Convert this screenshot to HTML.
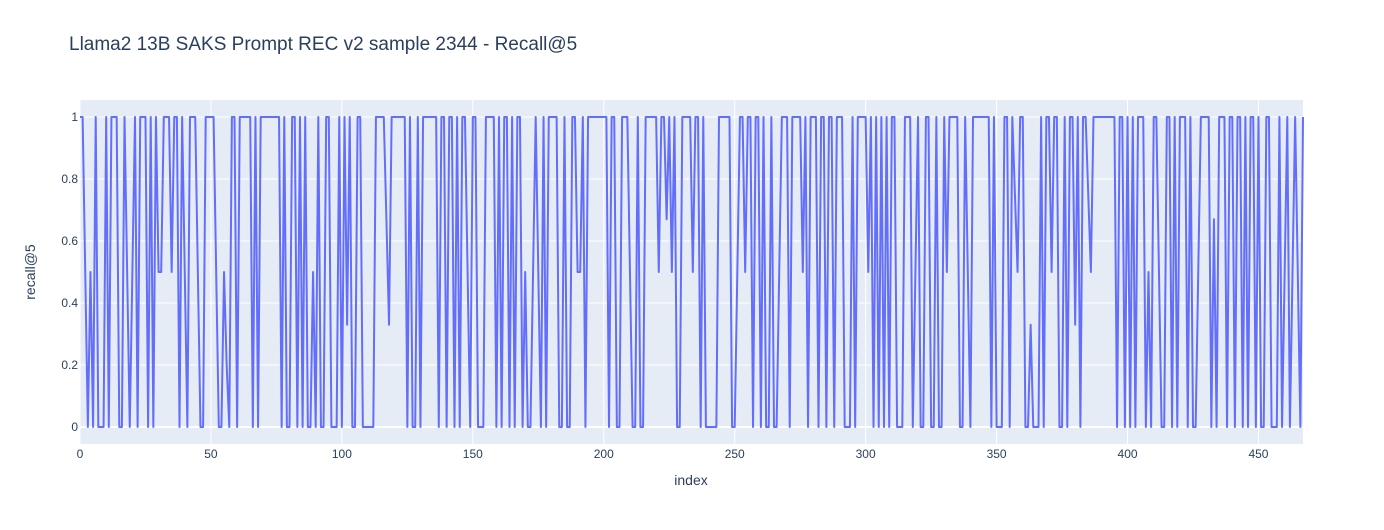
<!DOCTYPE html>
<html><head><meta charset="utf-8"><style>
body{margin:0;background:#fff;font-family:"Liberation Sans",sans-serif;}
svg text{font-family:"Liberation Sans",sans-serif;}
</style></head><body>
<svg id="chart" width="1384" height="525" xmlns="http://www.w3.org/2000/svg">
<rect x="0" y="0" width="1384" height="525" fill="#fff"/>
<text x="69" y="50" font-size="19" fill="#2a3f5f">Llama2 13B SAKS Prompt REC v2 sample 2344 - Recall@5</text>
<rect x="80" y="100" width="1223" height="344" fill="#e5ecf6"/>
<g id="grid"></g>
<g id="ticks"></g>
<path id="series" fill="none" stroke="#636efa" stroke-width="2" stroke-linejoin="round"/>
<text x="691" y="485" font-size="14" fill="#2a3f5f" text-anchor="middle">index</text>
<text x="35" y="272" font-size="14" fill="#2a3f5f" text-anchor="middle" transform="rotate(-90 35 272)">recall@5</text>
</svg>
<script>
const recall = [
1,1,0.5,0,0.5,0,1,0,0,0,
1,0,1,1,1,0,0,1,0.5,0,
0.5,1,0,1,1,1,0,1,0,1,
0.5,0.5,1,1,1,0.5,1,1,0,1,
0.5,0,1,1,1,0.5,0,0,1,1,
1,1,0.5,0,0,0.5,0.2,0,1,1,
0,1,1,1,1,1,0,1,0,1,
1,1,1,1,1,1,1,0,1,0,
0,1,1,0,1,0,1,0,0,0.5,
0,1,0,0,1,1,0,0,0,1,
0,1,0.33,1,0,0,1,1,0,0,
0,0,0,1,1,1,1,0.67,0.33,1,
1,1,1,1,1,0,1,0,0,1,
0,1,1,1,1,1,1,0,1,1,
0,1,1,0,1,0,1,1,0.5,0,
1,1,0,0,0,1,1,1,1,0,
1,0,1,1,0,1,0,1,1,0,
0.5,0,0,0.5,1,0.5,0,1,0,1,
1,1,1,0,0,1,0,0,1,1,
0.5,0.5,1,0,1,1,1,1,1,1,
1,1,0,1,1,0,0,1,1,1,
0.5,0,0,1,0,0,1,1,1,1,
1,0.5,1,1,0.67,1,0.5,1,0,0,
1,1,1,1,0.5,1,1,0,1,0,
0,0,0,0,1,1,1,1,1,0,
0,0.5,1,1,0.5,1,1,0,1,1,
0,1,0,0,1,0,0,0.5,1,1,
1,0,1,1,1,1,0.5,1,0,1,
1,1,0,1,1,0,1,1,0,1,
1,1,0,0,0,1,0,1,1,1,
1,0.5,1,0,1,0,1,0,1,0,
1,1,0,0,0,1,1,1,0,0.5,
1,0,0,1,1,0,0,1,0,0,
1,0.5,1,1,1,1,0,0,1,0.5,
0,1,1,1,1,1,1,1,0,1,
0,0,0,1,1,0,1,0.75,0.5,1,
1,0,0,0.33,0,0,0,1,0,1,
1,0.5,1,1,0,0,1,0,1,1,
0.33,1,0,1,1,0.75,0.5,1,1,1,
1,1,1,1,1,1,0,1,1,0,
1,0,1,0,1,1,1,0,0.5,0,
1,1,0.5,0,0,1,1,0,1,0,
1,1,1,0,1,0,0,0.5,1,1,
1,1,0,0.67,0,1,1,1,0,1,
1,0,1,1,0,1,0,1,1,0,
1,0,0,1,1,0,0,0,1,0,
0.5,1,0,0.5,1,0.5,0,1
];
const xTicks = [0,50,100,150,200,250,300,350,400,450];
const yTicks = [0,0.2,0.4,0.6,0.8,1];
const yTickLabels = ["0","0.2","0.4","0.6","0.8","1"];

const NS = "http://www.w3.org/2000/svg";
const L = 80, R = 1303, T = 100, B = 444;
const xMax = recall.length - 1;
const x = i => L + (R - L) * i / xMax;
const yMin = -0.0548, yMax = 1.0548;
const y = v => B - (B - T) * (v - yMin) / (yMax - yMin);

const grid = document.getElementById('grid');
const ticks = document.getElementById('ticks');
xTicks.forEach(t => {
  const ln = document.createElementNS(NS, 'line');
  ln.setAttribute('x1', x(t)); ln.setAttribute('x2', x(t));
  ln.setAttribute('y1', T); ln.setAttribute('y2', B);
  ln.setAttribute('stroke', '#fff'); ln.setAttribute('stroke-width', '1');
  
  
  grid.appendChild(ln);
  const tx = document.createElementNS(NS, 'text');
  tx.setAttribute('x', x(t)); tx.setAttribute('y', 458);
  tx.setAttribute('font-size', '12'); tx.setAttribute('fill', '#2a3f5f');
  tx.setAttribute('text-anchor', 'middle');
  tx.textContent = t;
  
  
  ticks.appendChild(tx);
});
yTicks.forEach((t, k) => {
  const ln = document.createElementNS(NS, 'line');
  ln.setAttribute('x1', L); ln.setAttribute('x2', R);
  ln.setAttribute('y1', y(t)); ln.setAttribute('y2', y(t));
  ln.setAttribute('stroke', '#fff'); ln.setAttribute('stroke-width', t === 0 ? '2' : '1');
  
  
  grid.appendChild(ln);
  const tx = document.createElementNS(NS, 'text');
  tx.setAttribute('x', 78); tx.setAttribute('y', y(t) + 4);
  tx.setAttribute('font-size', '12'); tx.setAttribute('fill', '#2a3f5f');
  tx.setAttribute('text-anchor', 'end');
  tx.textContent = yTickLabels[k];
  
  
  ticks.appendChild(tx);
});
let d = '';
recall.forEach((v, i) => { d += (i ? 'L' : 'M') + x(i).toFixed(2) + ' ' + y(v).toFixed(2); });
document.getElementById('series').setAttribute('d', d);
</script>
</body></html>
